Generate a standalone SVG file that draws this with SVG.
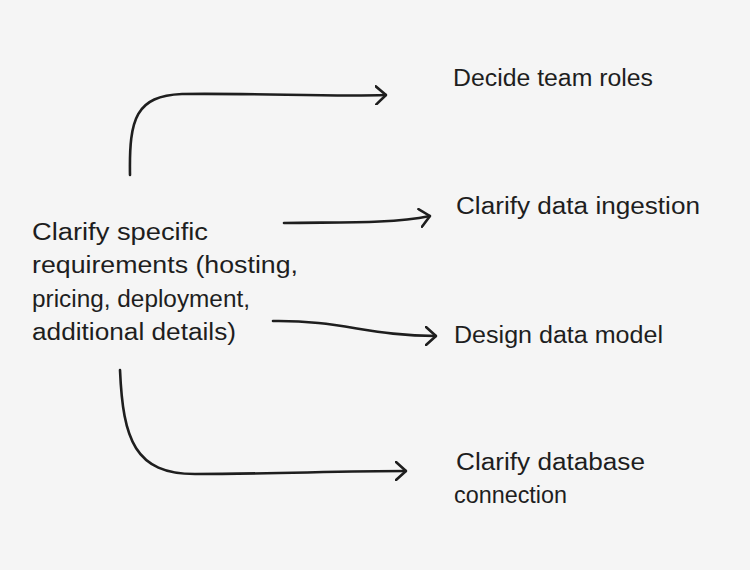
<svg xmlns="http://www.w3.org/2000/svg" width="750" height="570" viewBox="0 0 750 570">
<defs>
<style>
.t{font-family:"Liberation Sans",Arial,sans-serif;font-size:23px;fill:#1e1e1e}
.c{fill:none;stroke:#1e1e1e;stroke-width:2.6;stroke-linecap:round;stroke-linejoin:round}
</style>
<marker id="ah" viewBox="0 0 12 20" refX="11" refY="10" markerWidth="12" markerHeight="20" markerUnits="userSpaceOnUse" orient="auto">
<path d="M1 1 L11 10 L1 19" fill="none" stroke="#1e1e1e" stroke-width="2.6" stroke-linecap="round" stroke-linejoin="round"/>
</marker>
</defs>
<rect width="750" height="570" fill="#f5f5f5"/>
<g id="connectors">
<path class="c" marker-end="url(#ah)" d="M130 175 C129 118 136 96 182 94 C260 93 330 97 386 95"/>
<path class="c" marker-end="url(#ah)" d="M284 223 C340 222 390 224 430 216"/>
<path class="c" marker-end="url(#ah)" d="M273 321 C340 320 370 336 436 336"/>
<path class="c" marker-end="url(#ah)" d="M120 370 C123 440 135 474 195 474 C270 474 340 471 406 471"/>
</g>
<g id="node-main">
<text class="t" x="32" y="240" textLength="176" lengthAdjust="spacingAndGlyphs">Clarify specific</text>
<text class="t" x="32" y="273" textLength="266" lengthAdjust="spacingAndGlyphs">requirements (hosting,</text>
<text class="t" x="32" y="307" textLength="218" lengthAdjust="spacingAndGlyphs">pricing, deployment,</text>
<text class="t" x="32" y="340" textLength="204" lengthAdjust="spacingAndGlyphs">additional details)</text>
</g>
<g id="node-roles">
<text class="t" x="453" y="86" textLength="200" lengthAdjust="spacingAndGlyphs">Decide team roles</text>
</g>
<g id="node-ingestion">
<text class="t" x="456" y="214" textLength="244" lengthAdjust="spacingAndGlyphs">Clarify data ingestion</text>
</g>
<g id="node-model">
<text class="t" x="454" y="343" textLength="209" lengthAdjust="spacingAndGlyphs">Design data model</text>
</g>
<g id="node-db">
<text class="t" x="456" y="470" textLength="189" lengthAdjust="spacingAndGlyphs">Clarify database</text>
<text class="t" x="454" y="503" textLength="113" lengthAdjust="spacingAndGlyphs">connection</text>
</g>
</svg>
